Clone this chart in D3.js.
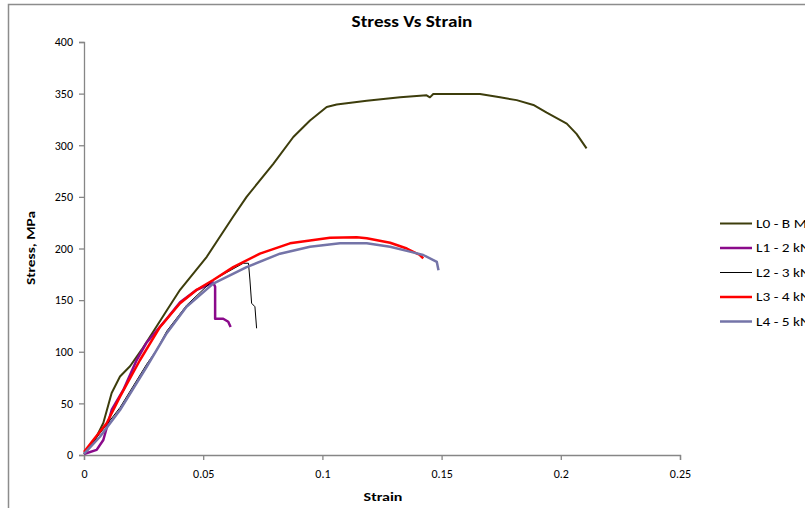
<!DOCTYPE html>
<html>
<head>
<meta charset="utf-8">
<script src="https://cdn.jsdelivr.net/npm/d3@7"></script>
<style>
  body { margin: 0; background: white; }
  svg { display: block; font-family: Carlito, Calibri, "Liberation Sans", Arial, sans-serif; }
</style>
</head>
<body>
<svg id="chart" width="805" height="508"></svg>
<script>
// series values: [strain, stress]
var l0 = [[0,1],[0.004,12],[0.0081,31],[0.0116,60],[0.0151,76],[0.0193,86],[0.0242,102],[0.0347,140],
  [0.0403,160],[0.0515,192],[0.0626,231],[0.0682,250],[0.0794,282],[0.0878,308],[0.0948,324],[0.1018,337],
  [0.106,339.5],[0.1186,343],[0.1326,346.4],[0.1437,348.4],[0.1451,346.4],[0.1465,349.6],[0.1661,349.6],
  [0.1745,346.4],[0.1815,343.7],[0.1885,339],[0.1941,331.5],[0.2025,321],[0.2066,311],[0.2108,297]];
var l1 = [[0,1],[0.0053,5],[0.0081,14.5],[0.0116,43.6],[0.0165,63],[0.0221,92],[0.0263,109],[0.0347,132],
  [0.0403,148],[0.0473,160],[0.0542,167],[0.055,163],[0.055,132],[0.0584,132],[0.0605,129],[0.0615,124]];
var l2 = [[0,1],[0.0067,21],[0.0151,46],[0.0263,88],[0.0305,102],[0.0347,120],[0.043,145],[0.0542,169.5],
  [0.0668,185.7],[0.069,185.7],[0.0696,169.5],[0.0703,147],[0.0717,143.6],[0.0724,122.7]];
var l3 = [[0,3],[0.0039,14.5],[0.0095,30.7],[0.0151,56.5],[0.0235,92],[0.0319,124],[0.0403,147],[0.0473,160],
  [0.0542,169.5],[0.0626,182],[0.0738,195],[0.0864,205],[0.1032,210.5],[0.1144,211],[0.1186,210],
  [0.1284,205.6],[0.1354,200],[0.1409,193.7],[0.1423,190.5]];
var l4 = [[0,1],[0.0067,17.7],[0.0151,43.6],[0.0263,85.5],[0.0347,118],[0.043,143.6],[0.0542,166],[0.0682,182],
  [0.0822,195],[0.0948,201.7],[0.1074,205],[0.1186,205],[0.1284,201.7],[0.1367,197],[0.1423,193.7],
  [0.148,187],[0.1487,179]];

var seriesNames = ["L0 - B M", "L1 - 2 kN", "L2 - 3 kN", "L3 - 4 kN", "L4 - 5 kN"];
var seriesData = [l0, l1, l2, l3, l4];
var seriesColors = ["#3d3d0c", "#8b0a8b", "#000000", "#ff0000", "#7474a8"];
var seriesWidths = [2, 2.5, 1, 2.5, 2.5];

var xTicks = [0, 0.05, 0.1, 0.15, 0.2, 0.25];
var yTicks = [0, 50, 100, 150, 200, 250, 300, 350, 400];

var stretch = 1.28; // the reference text looks widened

var svg = d3.select("#chart");

// outer chart frame (cut off at right and bottom)
svg.append("rect")
  .attr("x", 8.5).attr("y", 4.5)
  .attr("width", 900).attr("height", 600)
  .attr("fill", "white")
  .attr("stroke", "#8c8c8c")
  .attr("stroke-width", 1.5);

var xScale = d3.scaleLinear().domain([0, 0.25]).range([84, 680]);
var yScale = d3.scaleLinear().domain([0, 400]).range([455, 42]);

var xAxis = svg.append("g")
  .attr("transform", "translate(0,455)")
  .call(d3.axisBottom(xScale).tickValues(xTicks).tickFormat(d => d3.format("")(d)).tickSize(5).tickPadding(9));
var yAxis = svg.append("g")
  .attr("transform", "translate(84,0)")
  .call(d3.axisLeft(yScale).tickValues(yTicks).tickSize(5).tickPadding(6));

[xAxis, yAxis].forEach(function (g) {
  g.select(".domain").attr("stroke", "#868686").attr("stroke-width", 1.3);
  g.selectAll(".tick line").attr("stroke", "#868686").attr("stroke-width", 1.3);
  g.selectAll(".tick text")
    .attr("fill", "#000")
    .style("font-size", "12px")
    .style("font-family", "Carlito, Calibri, 'Liberation Sans', Arial, sans-serif");
});

var line = d3.line()
  .x(d => xScale(d[0]))
  .y(d => yScale(d[1]));

svg.selectAll("path.series")
  .data(seriesData)
  .join("path")
  .attr("class", "series")
  .attr("fill", "none")
  .attr("stroke", (d, i) => seriesColors[i])
  .attr("stroke-width", (d, i) => seriesWidths[i])
  .attr("stroke-linejoin", "round")
  .attr("d", line);

// title and axis labels
svg.append("text")
  .attr("transform", "translate(412,27) scale(" + stretch + ",1)")
  .attr("text-anchor", "middle")
  .style("font-size", "15px").style("font-weight", "bold")
  .text("Stress Vs Strain");

svg.append("text")
  .attr("transform", "translate(383,501) scale(" + stretch + ",1)")
  .attr("text-anchor", "middle")
  .style("font-size", "12.5px").style("font-weight", "bold")
  .text("Strain");

svg.append("text")
  .attr("transform", "translate(35,248) rotate(-90) scale(" + stretch + ",1)")
  .attr("text-anchor", "middle")
  .style("font-size", "12px").style("font-weight", "bold")
  .text("Stress, MPa");

// legend
var legend = svg.selectAll("g.legend")
  .data(seriesNames)
  .join("g")
  .attr("class", "legend")
  .attr("transform", (d, i) => "translate(720," + (223.5 + i * 24.5) + ")");

legend.append("line")
  .attr("x1", 0).attr("x2", 32)
  .attr("stroke", (d, i) => seriesColors[i])
  .attr("stroke-width", (d, i) => seriesWidths[i]);

legend.append("text")
  .attr("transform", "translate(36,0) scale(" + stretch + ",1)")
  .attr("dy", "0.35em")
  .style("font-size", "12px")
  .text(d => d);
</script>
</body>
</html>
